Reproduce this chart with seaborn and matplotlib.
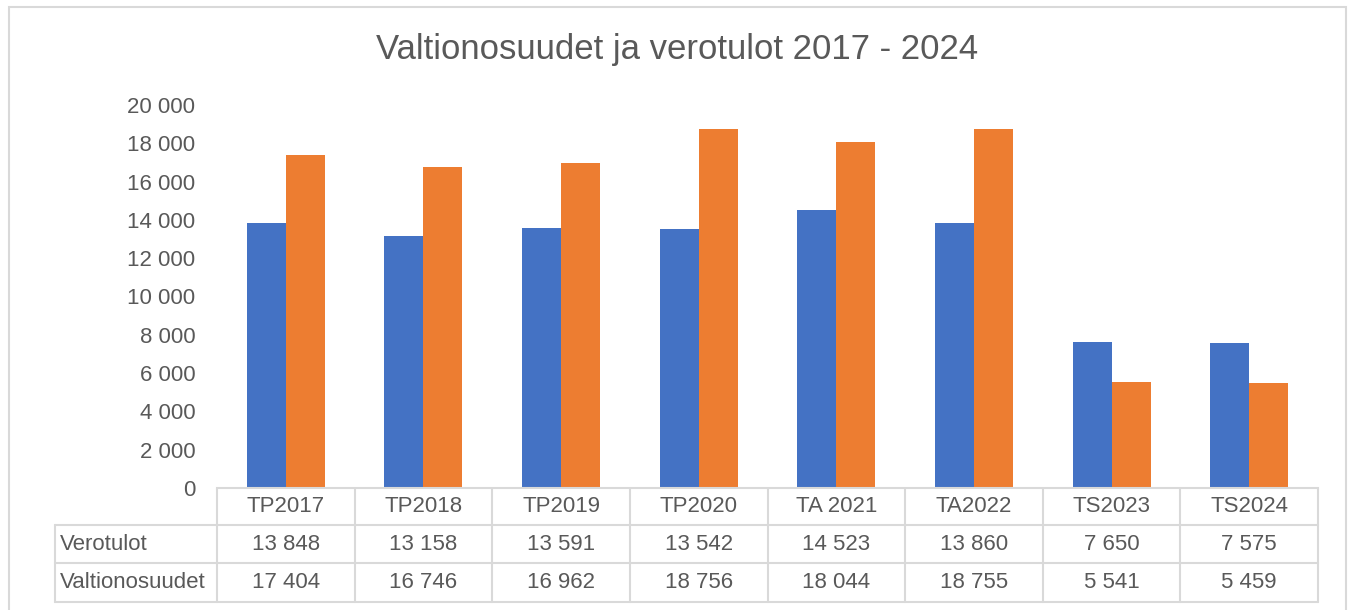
import matplotlib
matplotlib.use("Agg")
import matplotlib.pyplot as plt
from matplotlib.lines import Line2D
from matplotlib.patches import Rectangle
import seaborn as sns
import pandas as pd

categories = ["TP2017", "TP2018", "TP2019", "TP2020", "TA 2021", "TA2022", "TS2023", "TS2024"]
verotulot = [13848, 13158, 13591, 13542, 14523, 13860, 7650, 7575]
valtionosuudet = [17404, 16746, 16962, 18756, 18044, 18755, 5541, 5459]
series_names = ["Verotulot", "Valtionosuudet"]
yticks = [0, 2000, 4000, 6000, 8000, 10000, 12000, 14000, 16000, 18000, 20000]
title = "Valtionosuudet ja verotulot 2017 - 2024"

sns.set_theme(style="white")
plt.rcParams["font.family"] = ["Liberation Sans", "DejaVu Sans"]

TXT = "#595959"
GRID = "#d9d9d9"
colors = ["#4472C4", "#ED7D31"]
FS = 16

df = pd.DataFrame({
    "cat": categories * 2,
    "val": verotulot + valtionosuudet,
    "series": [series_names[0]] * len(categories) + [series_names[1]] * len(categories),
})

W, H = 1349, 610
fig = plt.figure(figsize=(W / 100, H / 100), dpi=100)
fig.patch.set_facecolor("white")
ax = fig.add_axes([217 / W, 1 - 488 / H, (1318 - 217) / W, (488 - 105) / H])

sns.barplot(data=df, x="cat", y="val", hue="series", order=categories,
            hue_order=series_names, palette=colors, saturation=1,
            width=0.567, gap=0, legend=False, ax=ax, errorbar=None, linewidth=0)

ax.set_xlim(-0.5, len(categories) - 0.5)
ax.set_ylim(0, 20000)
ax.set_yticks(yticks)
ax.set_yticklabels([f"{v:,}".replace(",", " ") for v in yticks])
ax.tick_params(axis="y", length=0, pad=15.5, labelsize=FS, labelcolor=TXT)
ax.set_xticks([])
ax.set_xlabel("")
ax.set_ylabel("")
for s in ["top", "right", "left"]:
    ax.spines[s].set_visible(False)
ax.spines["bottom"].set_color(GRID)
ax.spines["bottom"].set_linewidth(1.5)

# data table below the chart
ax_px_h = 488 - 105
ax_px_w = 1318 - 217
def yfrac(py):
    return (488 - py) / ax_px_h
row_lines = [525, 563, 602]
left_frac = (55 - 217) / ax_px_w
bt = ax.get_xaxis_transform()
for py in row_lines:
    ax.add_line(Line2D([left_frac, 1], [yfrac(py)] * 2, transform=ax.transAxes,
                       color=GRID, lw=1.5, clip_on=False))
ax.add_line(Line2D([left_frac, left_frac], [yfrac(525), yfrac(602)], transform=ax.transAxes,
                   color=GRID, lw=1.5, clip_on=False))
for i in range(len(categories) + 1):
    x = i - 0.5
    ax.add_line(Line2D([x, x], [yfrac(489), yfrac(602)], transform=bt,
                       color=GRID, lw=1.5, clip_on=False))

def fmt(v):
    return f"{v:,}".replace(",", " ")

for i, c in enumerate(categories):
    ax.text(i, yfrac(507), c, transform=bt, ha="center", va="center",
            fontsize=FS, color=TXT, clip_on=False)
    ax.text(i, yfrac(544), fmt(verotulot[i]), transform=bt, ha="center", va="center",
            fontsize=FS, color=TXT, clip_on=False)
    ax.text(i, yfrac(582), fmt(valtionosuudet[i]), transform=bt, ha="center", va="center",
            fontsize=FS, color=TXT, clip_on=False)
lx = (60 - 217) / ax_px_w
ax.text(lx, yfrac(544), series_names[0], transform=ax.transAxes, ha="left", va="center",
        fontsize=FS, color=TXT, clip_on=False)
ax.text(lx, yfrac(582), series_names[1], transform=ax.transAxes, ha="left", va="center",
        fontsize=FS, color=TXT, clip_on=False)

fig.text(677 / W, 1 - 50 / H, title, ha="center", va="center", fontsize=25, color=TXT)

fig.patches.append(Rectangle((9 / W, -0.1), (1346 - 9) / W, 1 - 7 / H + 0.1,
                             transform=fig.transFigure, fill=False, edgecolor=GRID, lw=1.5))

fig.savefig("out.png", dpi=100)
